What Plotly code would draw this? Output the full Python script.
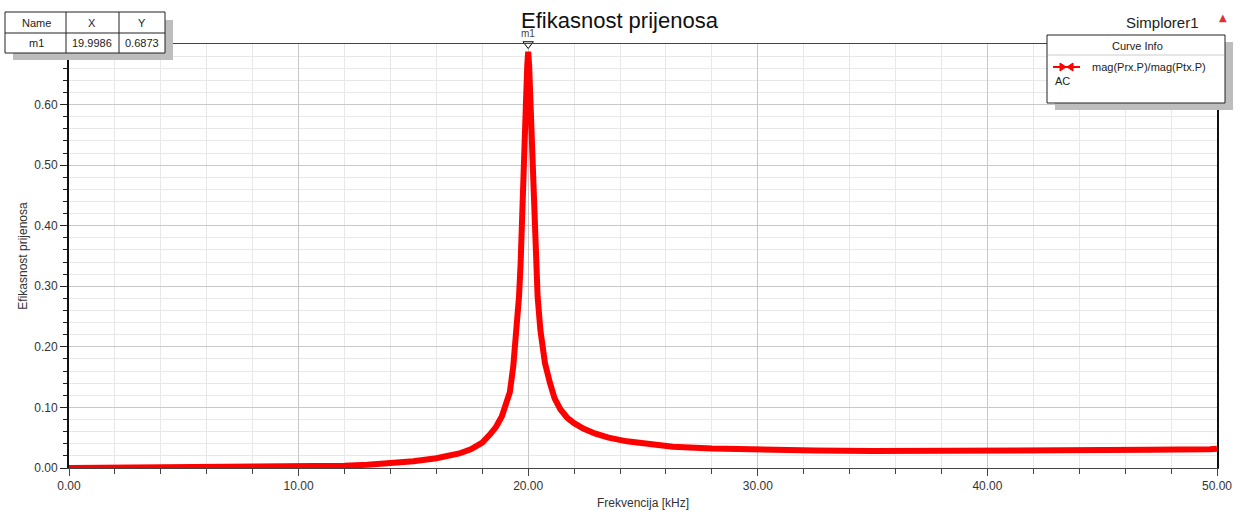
import plotly.graph_objects as go

# ---- data ----
freq_khz = [0.0, 2.0, 4.0, 6.0, 8.0, 9.0, 10.0, 11.0, 12.0, 13.0, 14.0, 15.0, 16.0,
            16.5, 17.0, 17.5, 18.0, 18.35, 18.6, 18.85, 19.05, 19.2, 19.35, 19.5, 19.6,
            19.67, 19.73, 19.78, 19.83, 19.9, 19.96, 19.9986, 20.04, 20.1, 20.17, 20.22,
            20.27, 20.33, 20.41, 20.53, 20.73, 20.95, 21.15, 21.4, 21.7, 22.0, 22.4,
            22.9, 23.5, 24.3, 25.3, 26.3, 28.0, 30.0, 32.5, 35.0, 38.0, 41.0, 44.0,
            47.0, 49.7, 50.0]
efficiency = [0.0, 0.0002, 0.0004, 0.0007, 0.0012, 0.0016, 0.002, 0.0027, 0.0036, 0.0055,
              0.008, 0.011, 0.016, 0.019, 0.024, 0.031, 0.042, 0.056, 0.068, 0.085,
              0.105, 0.125, 0.168, 0.228, 0.283, 0.338, 0.393, 0.46, 0.53, 0.60, 0.665,
              0.6873, 0.665, 0.60, 0.53, 0.46, 0.393, 0.338, 0.283, 0.228, 0.173, 0.140,
              0.115, 0.097, 0.083, 0.074, 0.065, 0.057, 0.050, 0.044, 0.039, 0.035,
              0.032, 0.030, 0.029, 0.028, 0.028, 0.029, 0.030, 0.030, 0.031, 0.032]

y_tick_values = [0.0, 0.1, 0.2, 0.3, 0.4, 0.5, 0.6]
x_tick_values = [0, 10, 20, 30, 40, 50]

marker_name = "m1"
marker_x = 19.9986
marker_y = 0.6873

title_text = "Efikasnost prijenosa"
x_title = "Frekvencija [kHz]"
y_title = "Efikasnost prijenosa"
curve_name = "mag(Prx.P)/mag(Ptx.P)"
curve_sub = "AC"
design_name = "Simplorer1"

W, H = 1242, 511
L, R, T, B = 69, 1217, 44, 468
FONT = "Liberation Sans, Arial, sans-serif"


def px(p):
    return (p - L) / (R - L)


def py(p):
    return (B - p) / (B - T)


fig = go.Figure()
fig.add_trace(go.Scatter(x=freq_khz, y=efficiency, mode="lines",
                         line=dict(color="#ff0000", width=6), showlegend=False,
                         hoverinfo="x+y"))
# marker m1 triangle at top edge
fig.add_trace(go.Scatter(x=[marker_x], y=[0.7], mode="markers",
                         marker=dict(symbol="triangle-down", size=9, color="white",
                                     line=dict(color="black", width=1)),
                         cliponaxis=False, showlegend=False, hoverinfo="skip"))

shapes = []
annos = []

# ---- marker table (top-left) ----
shapes.append(dict(type="rect", xref="paper", yref="paper", x0=px(13), x1=px(173),
                   y0=py(20), y1=py(60), fillcolor="#bdbdbd", line=dict(width=0), layer="above"))
shapes.append(dict(type="rect", xref="paper", yref="paper", x0=px(5), x1=px(165),
                   y0=py(12), y1=py(53), fillcolor="white",
                   line=dict(color="#222", width=1), layer="above"))
for xv in (66, 119):
    shapes.append(dict(type="line", xref="paper", yref="paper", x0=px(xv), x1=px(xv),
                       y0=py(12), y1=py(53), line=dict(color="#222", width=1), layer="above"))
shapes.append(dict(type="line", xref="paper", yref="paper", x0=px(5), x1=px(165),
                   y0=py(33), y1=py(33), line=dict(color="#222", width=1), layer="above"))
for txt, cx, cy in [("Name", 36, 23), ("X", 92, 23), ("Y", 142, 23),
                    (marker_name, 36, 43), (f"{marker_x:.4f}", 92, 43), (f"{marker_y:.4f}", 142, 43)]:
    annos.append(dict(text=txt, xref="paper", yref="paper", x=px(cx), y=py(cy),
                      showarrow=False, xanchor="center", yanchor="middle",
                      font=dict(family=FONT, size=11, color="#222")))

# ---- legend (curve info, top-right) ----
shapes.append(dict(type="rect", xref="paper", yref="paper", x0=px(1055), x1=px(1233),
                   y0=py(42), y1=py(110), fillcolor="#bdbdbd", line=dict(width=0), layer="above"))
shapes.append(dict(type="rect", xref="paper", yref="paper", x0=px(1047), x1=px(1225),
                   y0=py(35), y1=py(103), fillcolor="white",
                   line=dict(color="#222", width=1), layer="above"))
shapes.append(dict(type="line", xref="paper", yref="paper", x0=px(1048), x1=px(1224),
                   y0=py(55), y1=py(55), line=dict(color="#cccccc", width=1), layer="above"))
shapes.append(dict(type="line", xref="paper", yref="paper", x0=px(1053), x1=px(1080),
                   y0=py(67), y1=py(67), line=dict(color="#ff0000", width=2), layer="above"))
for tip, base in [(1066, 1060), (1067, 1073)]:
    shapes.append(dict(type="path", xref="paper", yref="paper",
                       path=f"M {px(base)} {py(63)} L {px(tip)} {py(67)} L {px(base)} {py(71)} Z",
                       fillcolor="#ff0000", line=dict(color="#ff0000", width=1), layer="above"))
annos.append(dict(text="Curve Info", xref="paper", yref="paper", x=px(1137), y=py(46),
                  showarrow=False, xanchor="center", yanchor="middle",
                  font=dict(family=FONT, size=11, color="#222")))
annos.append(dict(text=curve_name, xref="paper", yref="paper", x=px(1090), y=py(67),
                  showarrow=False, xanchor="left", yanchor="middle",
                  font=dict(family=FONT, size=11, color="#222")))
annos.append(dict(text=curve_sub, xref="paper", yref="paper", x=px(1053), y=py(81),
                  showarrow=False, xanchor="left", yanchor="middle",
                  font=dict(family=FONT, size=11, color="#222")))

# ---- title, design name, marker label ----
annos.append(dict(text=title_text, xref="paper", yref="paper", x=px(620), y=py(21),
                  showarrow=False, xanchor="center", yanchor="middle",
                  font=dict(family=FONT, size=22, color="#111")))
annos.append(dict(text=design_name, xref="paper", yref="paper", x=px(1162), y=py(22),
                  showarrow=False, xanchor="center", yanchor="middle",
                  font=dict(family=FONT, size=15, color="#222")))
annos.append(dict(text="▲", xref="paper", yref="paper", x=px(1223), y=py(18),
                  showarrow=False, xanchor="center", yanchor="middle",
                  font=dict(family="DejaVu Sans", size=10, color="#e03030")))
annos.append(dict(text=marker_name, xref="x", yref="paper", x=marker_x, y=py(34),
                  showarrow=False, xanchor="center", yanchor="middle",
                  font=dict(family=FONT, size=10, color="#444")))

fig.update_layout(
    width=W, height=H, autosize=False,
    margin=dict(l=L, r=W - R, t=T, b=H - B, autoexpand=False),
    paper_bgcolor="white", plot_bgcolor="white",
    font=dict(family=FONT, size=12, color="#333"),
    shapes=shapes, annotations=annos, showlegend=False,
)
fig.update_xaxes(
    range=[0, 50], tickmode="array", tickvals=x_tick_values, tickformat=".2f",
    automargin=False,
    ticks="outside", ticklen=7, tickcolor="#444", tickwidth=1,
    showline=True, linecolor="#444", linewidth=1, mirror=True,
    showgrid=True, gridcolor="#c8c8c8", gridwidth=1, zeroline=False,
    minor=dict(tickmode="linear", tick0=0, dtick=2, ticks="outside", ticklen=5,
               tickcolor="#444", showgrid=True, gridcolor="#e8e8e8"),
    title=dict(text=x_title, standoff=6, font=dict(size=12, color="#333")),
    tickfont=dict(size=12, color="#333"),
)
fig.update_yaxes(
    range=[0, 0.70], tickmode="array", tickvals=y_tick_values, tickformat=".2f",
    automargin=False,
    ticks="outside", ticklen=7, tickcolor="#222", tickwidth=1,
    showline=True, linecolor="#111", linewidth=2, mirror=True,
    showgrid=True, gridcolor="#c8c8c8", gridwidth=1, zeroline=False,
    minor=dict(tickmode="linear", tick0=0, dtick=0.02, ticks="outside", ticklen=4,
               tickcolor="#222", showgrid=True, gridcolor="#e8e8e8"),
    title=dict(text=y_title, standoff=4, font=dict(size=12, color="#333")),
    tickfont=dict(size=12, color="#333"),
)

fig.write_html("out.html", config={"displayModeBar": False},
               post_script="document.body.style.margin='0';")
